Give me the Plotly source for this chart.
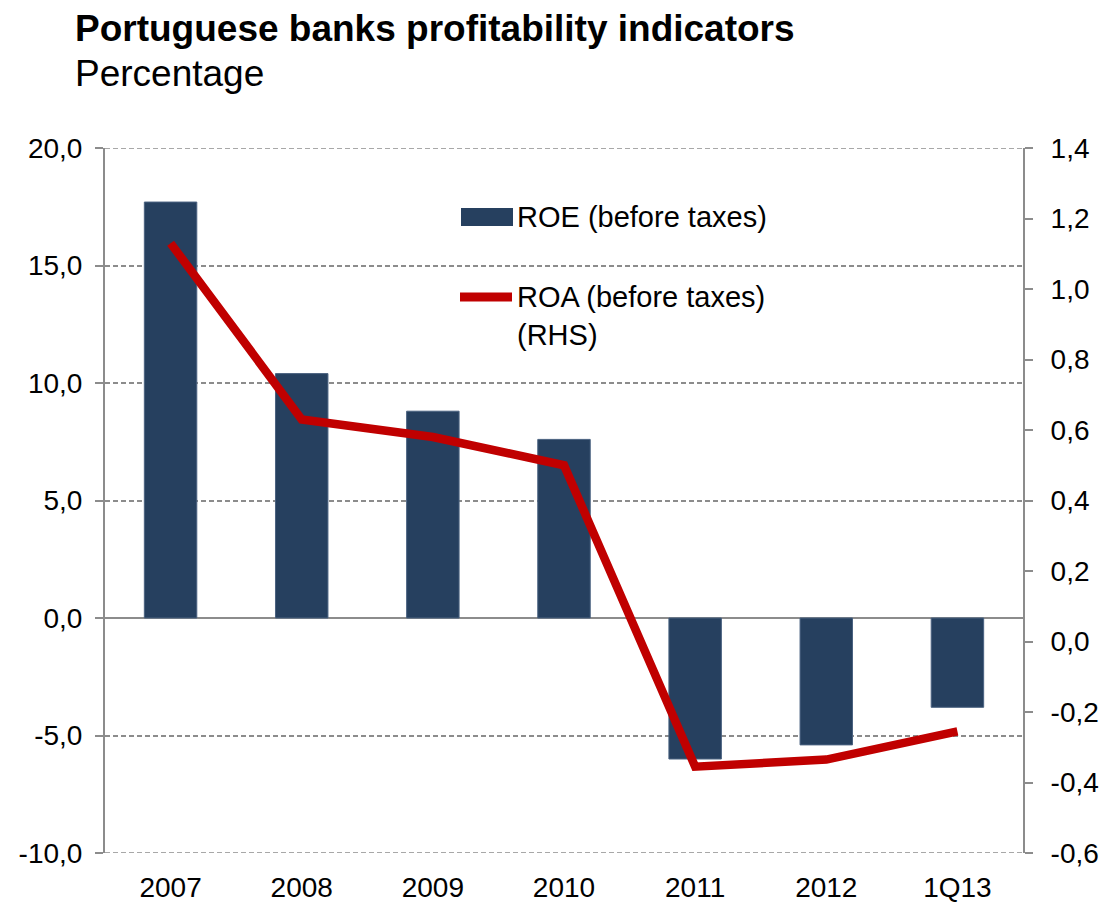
import plotly.graph_objects as go

# Profitability indicators of Portuguese banks
periods = ["2007", "2008", "2009", "2010", "2011", "2012", "1Q13"]
roe_before_taxes = [17.7, 10.4, 8.8, 7.6, -6.0, -5.4, -3.8]
roa_before_taxes = [1.13, 0.63, 0.58, 0.50, -0.355, -0.335, -0.255]

# Axis ticks (hyphen minus, decimal comma)
roe_ticks = [-10, -5, 0, 5, 10, 15, 20]
roe_tick_labels = ["-10,0", "-5,0", "0,0", "5,0", "10,0", "15,0", "20,0"]
roa_ticks = [-0.6, -0.4, -0.2, 0.0, 0.2, 0.4, 0.6, 0.8, 1.0, 1.2, 1.4]
roa_tick_labels = ["-0,6", "-0,4", "-0,2", "0,0", "0,2", "0,4", "0,6",
                   "0,8", "1,0", "1,2", "1,4"]

roe_name = "ROE (before taxes)"
roa_name = "ROA (before taxes)<br>(RHS)"

BAR_COLOR = "#26405F"
LINE_COLOR = "#C00000"
AXIS_GREY = "#8C8C8C"
FONT = "Liberation Sans, Arial, sans-serif"

fig = go.Figure()

fig.add_trace(go.Bar(
    x=periods, y=roe_before_taxes, name=roe_name,
    marker=dict(color=BAR_COLOR, line=dict(color="#4A6280", width=1)),
    width=0.4, showlegend=False, yaxis="y",
))

fig.add_trace(go.Scatter(
    x=periods, y=roa_before_taxes, name=roa_name, mode="lines",
    line=dict(color=LINE_COLOR, width=8.5),
    showlegend=False, yaxis="y2",
))

fig.update_layout(
    width=1103, height=904,
    margin=dict(l=105, r=80, t=148, b=51),
    paper_bgcolor="white", plot_bgcolor="white",
    font=dict(family=FONT, size=28, color="#000000"),
    xaxis=dict(
        type="category", range=[-0.5, 6.5], automargin=False,
        showline=False, ticks="", showgrid=False,
        tickfont=dict(size=28), ticklabelstandoff=15,
    ),
    yaxis=dict(
        range=[-10, 20], automargin=False,
        tickmode="array", tickvals=roe_ticks, ticktext=roe_tick_labels,
        showline=True, linecolor=AXIS_GREY, linewidth=2,
        ticks="outside", ticklen=8, tickcolor=AXIS_GREY, tickwidth=2,
        showgrid=True, gridcolor=AXIS_GREY, gridwidth=1.5, griddash="5px,3px",
        zeroline=True, zerolinecolor=AXIS_GREY, zerolinewidth=2,
        tickfont=dict(size=28), ticklabelstandoff=7,
    ),
    yaxis2=dict(
        range=[-0.6, 1.4], automargin=False,
        tickmode="array", tickvals=roa_ticks, ticktext=roa_tick_labels,
        overlaying="y", side="right",
        showline=True, linecolor=AXIS_GREY, linewidth=2,
        ticks="outside", ticklen=8, tickcolor=AXIS_GREY, tickwidth=2,
        showgrid=False, zeroline=False,
        tickfont=dict(size=28), ticklabelstandoff=12,
    ),
    bargap=0.6,
)

# Dashed gridlines on the top and bottom edges of the value range
for edge in (roe_ticks[0], roe_ticks[-1]):
    fig.add_shape(
        type="line", xref="paper", yref="y", x0=0, x1=1, y0=edge, y1=edge,
        line=dict(color=AXIS_GREY, width=1.5, dash="5px,3px"), layer="below",
    )

# Title block
fig.add_annotation(
    text="<b>Portuguese banks profitability indicators</b>",
    xref="paper", yref="paper", x=-0.035, y=1.169,
    xanchor="left", yanchor="middle", showarrow=False,
    font=dict(size=37, family=FONT),
)
fig.add_annotation(
    text="Percentage",
    xref="paper", yref="paper", x=-0.035, y=1.105,
    xanchor="left", yanchor="middle", showarrow=False,
    font=dict(size=37, family=FONT),
)

# Legend drawn inside the plot area
def px_x(px):
    return (px - 105) / 918


def px_y(py):
    return (853 - py) / 705


fig.add_shape(
    type="rect", xref="paper", yref="paper",
    x0=px_x(461), x1=px_x(513), y0=px_y(226), y1=px_y(208),
    fillcolor=BAR_COLOR, line=dict(width=0),
)
fig.add_shape(
    type="line", xref="paper", yref="paper",
    x0=px_x(460), x1=px_x(512), y0=px_y(297), y1=px_y(297),
    line=dict(color=LINE_COLOR, width=9),
)
fig.add_annotation(
    text=roe_name, xref="paper", yref="paper",
    x=px_x(515), y=px_y(217), xanchor="left", yanchor="middle",
    showarrow=False, font=dict(size=29, family=FONT),
)
fig.add_annotation(
    text=roa_name, xref="paper", yref="paper",
    x=px_x(515), y=px_y(316), xanchor="left", yanchor="middle",
    align="left", showarrow=False, font=dict(size=29, family=FONT),
)

fig.write_html("out.html")
